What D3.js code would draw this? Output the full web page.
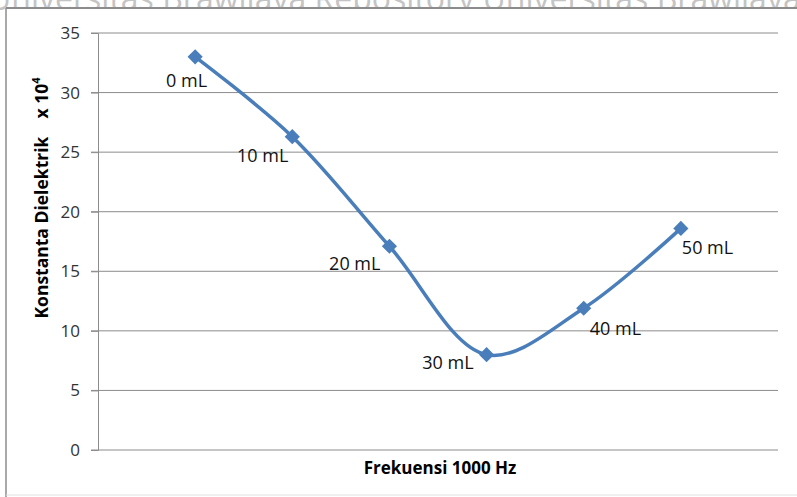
<!DOCTYPE html>
<html>
<head>
<meta charset="utf-8">
<script src="https://cdn.jsdelivr.net/npm/d3@7"></script>
<style>
  body { margin: 0; background: #fff; }
  text { font-family: "Open Sans", "Noto Sans", sans-serif; }
</style>
</head>
<body>
<svg id="chart"></svg>
<script>
const labels = ['0 mL', '10 mL', '20 mL', '30 mL', '40 mL', '50 mL']
const values = [33.0, 26.3, 17.1, 8.0, 11.9, 18.6]
const yTicks = [0, 5, 10, 15, 20, 25, 30, 35]

let width = 797,
    height = 497,
    margin = {top: 33, right: 19, bottom: 47, left: 98}

// where each data label sits relative to its point
let labelOffsets = [[12, 30, 'end'], [-4, 25, 'end'], [-9, 24, 'end'], [-13, 14, 'end'], [6, 27, 'start'], [1, 26, 'start']]

let svg = d3.select('svg#chart')
  .attr('width', width)
  .attr('height', height)

// watermark + frame
svg.append('text')
  .attr('x', -12).attr('y', 10)
  .attr('font-family', 'Liberation Sans, sans-serif')
  .attr('font-size', 32)
  .attr('fill', '#c4c4c4')
  .text('Universitas Brawijaya     Repository Universitas Brawijaya')

svg.append('rect').attr('x', 6).attr('y', 9).attr('width', width).attr('height', height).attr('fill', '#fff')
svg.append('line').attr('x1', 6).attr('x2', width).attr('y1', 8).attr('y2', 8)
  .attr('stroke', '#8c8c8c').attr('stroke-width', 2)
svg.append('line').attr('x1', 6).attr('x2', 6).attr('y1', 8).attr('y2', height)
  .attr('stroke', '#8c8c8c').attr('stroke-width', 1.5)
svg.append('line').attr('x1', 6).attr('x2', width).attr('y1', 495).attr('y2', 495)
  .attr('stroke', '#e0e0e0').attr('stroke-width', 1)

let x = d3.scaleLinear().domain([0, labels.length + 1]).range([margin.left, width - margin.right])
let y = d3.scaleLinear().domain([0, 35]).range([height - margin.bottom, margin.top])

let g = svg.append('g')

// gridlines
g.selectAll('line.grid').data(yTicks).enter().append('line')
  .attr('x1', margin.left - 7).attr('x2', width - margin.right)
  .attr('y1', d => y(d)).attr('y2', d => y(d))
  .attr('stroke', '#8c8c8c').attr('stroke-width', 1)

let yAxis = g.append('g')
  .attr('transform', `translate(${margin.left},0)`)
  .call(d3.axisLeft(y).tickValues(yTicks).tickSize(7).tickPadding(11))
yAxis.select('.domain').attr('stroke', '#8c8c8c')
yAxis.selectAll('.tick line').attr('stroke', '#8c8c8c')
yAxis.selectAll('.tick text')
  .attr('font-family', '"Open Sans", sans-serif')
  .attr('font-size', 17).attr('fill', '#333')

// axis titles
svg.append('text')
  .attr('transform', 'translate(48,198) rotate(-90)')
  .attr('text-anchor', 'middle')
  .attr('font-size', 17.5).attr('font-weight', 'bold')
  .html('Konstanta Dielektrik&#160;&#160;&#160;&#160;x 10<tspan dy="-8" font-size="11">4</tspan>')

svg.append('text')
  .attr('x', 440).attr('y', 474)
  .attr('text-anchor', 'middle')
  .attr('font-size', 17).attr('font-weight', 'bold')
  .text('Frekuensi 1000 Hz')

// line
let pts = values.map((v, i) => [x(i + 1), y(v)])
g.append('path')
  .attr('d', d3.line().curve(d3.curveCatmullRom.alpha(0.5))(pts))
  .attr('fill', 'none')
  .attr('stroke', '#4a7ebb')
  .attr('stroke-width', 3.5)

g.selectAll('path.marker').data(pts).enter().append('path')
  .attr('transform', d => `translate(${d[0]},${d[1]}) rotate(45)`)
  .attr('d', d3.symbol(d3.symbolSquare, 115)())
  .attr('fill', '#4a7ebb')

// point labels
g.selectAll('text.lbl').data(labels).enter().append('text')
  .attr('x', (d, i) => x(i + 1) + labelOffsets[i][0])
  .attr('y', (d, i) => y(values[i]) + labelOffsets[i][1])
  .attr('text-anchor', (d, i) => labelOffsets[i][2])
  .attr('font-size', 18)
  .attr('fill', '#111')
  .text(d => d)
</script>
</body>
</html>
